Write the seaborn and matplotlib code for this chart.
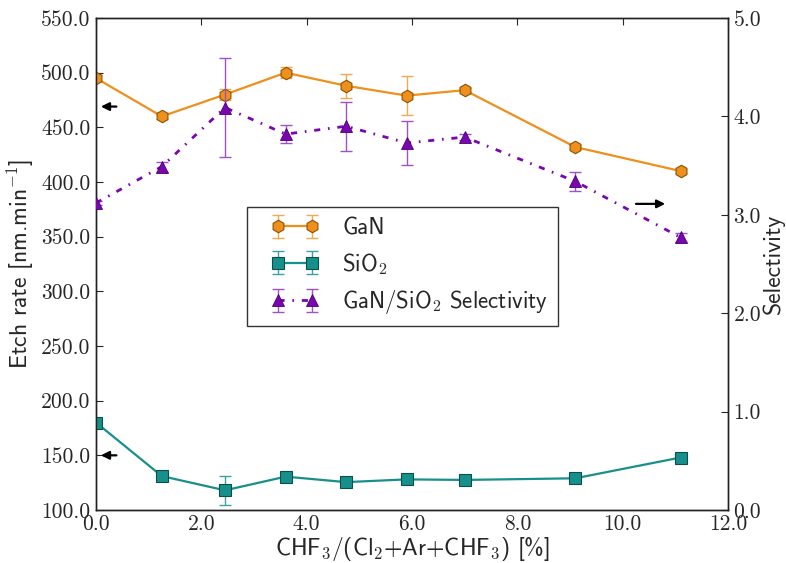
import matplotlib
matplotlib.use("Agg")
import matplotlib.pyplot as plt
from matplotlib.ticker import FormatStrFormatter, MultipleLocator
from matplotlib.container import ErrorbarContainer
from matplotlib.legend_handler import HandlerErrorbar
import seaborn as sns
import numpy as np

# ---- data ----
chf3_pct = [0.0, 1.25, 2.45, 3.6, 4.75, 5.9, 7.0, 9.1, 11.1]
gan_rate = [495, 460, 480, 500, 488, 479, 484, 432, 410]
gan_err = [3, 2, 5, 5, 11, 18, 2, 2, 2]
sio2_rate = [180, 131, 118, 130.5, 125.5, 128, 127.5, 129, 148]
sio2_err = [2, 2, 13, 2, 2, 2, 2, 2, 2]
selectivity = [3.12, 3.49, 4.09, 3.82, 3.90, 3.73, 3.79, 3.34, 2.77]
sel_err = [0.02, 0.05, 0.50, 0.09, 0.25, 0.22, 0.03, 0.10, 0.05]

labels = ["GaN", "SiO$_2$", "GaN/SiO$_2$ Selectivity"]
xlabel = "CHF$_3$/(Cl$_2$+Ar+CHF$_3$) [%]"
ylabel = "Etch rate [nm.min$^{-1}$]"
y2label = "Selectivity"

sns.set_style("white")
plt.rcParams["mathtext.fontset"] = "cm"
plt.rcParams["font.family"] = ["cmss10", "DejaVu Sans"]
plt.rcParams["axes.unicode_minus"] = False

orange, orange_edge, orange_err = "#ef8f1c", "#8a5200", "#f2a950"
teal, teal_edge, teal_err = "#17908b", "#0a4f4c", "#3aa39e"
purple, purple_edge, purple_err = "#7a06b0", "#4a0070", "#a050c8"

fig = plt.figure(figsize=(7.86, 5.63), dpi=100)
ax = fig.add_axes([96/786, 1-510/563, (728-96)/786, (510-18)/563])
ax2 = ax.twinx()

# GaN
sns.lineplot(x=chf3_pct, y=gan_rate, ax=ax, color=orange, marker="h", markersize=9,
             markeredgecolor=orange_edge, markerfacecolor=orange, markeredgewidth=0.8,
             linewidth=1.6, zorder=3)
l_gan = ax.lines[-1]
e_gan = ax.errorbar(chf3_pct, gan_rate, yerr=gan_err, fmt="none", ecolor=orange_err,
                    elinewidth=1, capsize=4, capthick=1, zorder=2)
# SiO2
sns.lineplot(x=chf3_pct, y=sio2_rate, ax=ax, color=teal, marker="s", markersize=9,
             markeredgecolor=teal_edge, markerfacecolor=teal, markeredgewidth=0.8,
             linewidth=1.6, zorder=3)
l_sio = ax.lines[-1]
e_sio = ax.errorbar(chf3_pct, sio2_rate, yerr=sio2_err, fmt="none", ecolor=teal_err,
                    elinewidth=1, capsize=4, capthick=1, zorder=2)
# Selectivity
sns.lineplot(x=chf3_pct, y=selectivity, ax=ax2, color=purple, marker="^", markersize=9,
             markeredgecolor=purple_edge, markerfacecolor=purple, markeredgewidth=0.6,
             linewidth=2.0, zorder=3)
l_sel = ax2.lines[-1]
l_sel.set_linestyle((0, (2.2, 2.8, 0.6, 2.8)))
e_sel = ax2.errorbar(chf3_pct, selectivity, yerr=sel_err, fmt="none", ecolor=purple_err,
                     elinewidth=1, capsize=4, capthick=1, zorder=2)

# axes limits / ticks
ax.set_xlim(0, 12)
ax.set_ylim(100, 550)
ax2.set_ylim(0, 5)
ax.xaxis.set_major_locator(MultipleLocator(2))
ax.yaxis.set_major_locator(MultipleLocator(50))
ax2.yaxis.set_major_locator(MultipleLocator(1))
ax.xaxis.set_major_formatter(FormatStrFormatter("%.1f"))
ax.yaxis.set_major_formatter(FormatStrFormatter("%.1f"))
ax2.yaxis.set_major_formatter(FormatStrFormatter("%.1f"))
ax.tick_params(axis="both", direction="in", length=5, width=0.8, top=True, right=False,
               labelsize=15.5, pad=4)
ax.tick_params(axis="x", pad=3)
ax2.tick_params(axis="y", direction="in", length=5, width=0.8, labelsize=15.5, pad=4)
for lab in ax.get_xticklabels() + ax.get_yticklabels() + ax2.get_yticklabels():
    lab.set_family(["cmr10", "DejaVu Serif"])

for a in (ax, ax2):
    for s in a.spines.values():
        s.set_color("#222222")
        s.set_linewidth(1.0)

ax.set_xlabel(xlabel, fontsize=17, labelpad=1)
ax.set_ylabel(ylabel, fontsize=17, labelpad=4)
ax2.set_ylabel(y2label, fontsize=17, labelpad=1)

# arrows
arrow_kw = dict(arrowstyle="-|>", color="black", lw=1.6, mutation_scale=12)
ax.annotate("", xy=(0.04, 469), xytext=(0.44, 469), arrowprops=arrow_kw)
ax.annotate("", xy=(0.04, 150), xytext=(0.44, 150), arrowprops=arrow_kw)
ax.annotate("", xy=(10.86, 380), xytext=(10.2, 380), arrowprops=arrow_kw)

# legend
handles = [
    ErrorbarContainer((l_gan, e_gan.lines[1], e_gan.lines[2]), has_xerr=False, has_yerr=True),
    ErrorbarContainer((l_sio, e_sio.lines[1], e_sio.lines[2]), has_xerr=False, has_yerr=True),
    ErrorbarContainer((l_sel, e_sel.lines[1], e_sel.lines[2]), has_xerr=False, has_yerr=True),
]
hmap = {h: HandlerErrorbar(marker_pad=0.9, numpoints=2) for h in handles}
leg = ax2.legend(handles, labels, loc="upper left", bbox_to_anchor=(247/786, 1-207/563),
                 bbox_transform=fig.transFigure, fontsize=16.5, numpoints=2,
                 handlelength=3.3, frameon=True, fancybox=False, borderpad=0.45,
                 labelspacing=0.5, handletextpad=0.4, borderaxespad=0, handler_map=hmap)
leg.get_frame().set_edgecolor("black")
leg.get_frame().set_linewidth(1.0)

fig.savefig("out.png", dpi=100)
